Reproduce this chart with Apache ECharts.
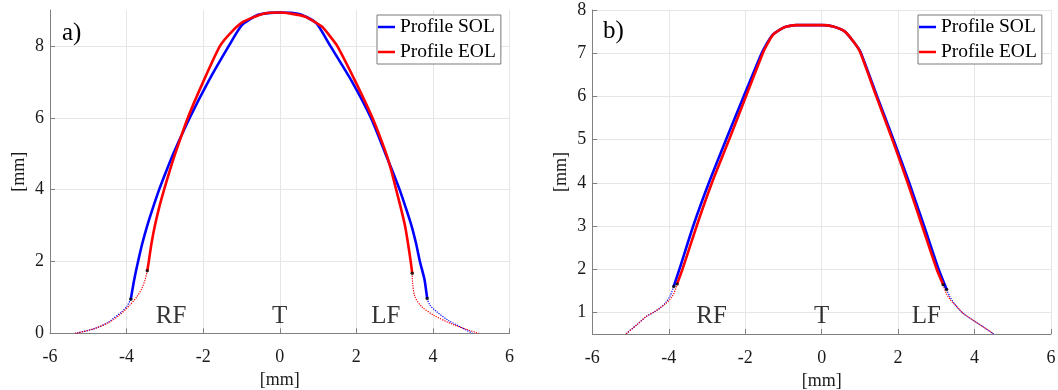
<!DOCTYPE html>
<html>
<head>
<meta charset="utf-8">
<script src="https://cdn.jsdelivr.net/npm/echarts@6/dist/echarts.min.js"></script>
<style>
  html, body { margin: 0; padding: 0; background: #fff; }
  #chart { width: 1058px; height: 390px; }
</style>
</head>
<body>
<div id="chart"></div>
<script>
// Tick values
const X_TICKS = [-6, -4, -2, 0, 2, 4, 6];
const Y_TICKS_A = [0, 2, 4, 6, 8];
const Y_TICKS_B = [1, 2, 3, 4, 5, 6, 7, 8];

// Panel a) measured profiles [x mm, y mm]
const solA = [[-3.89,0.95],[-3.80,1.5],[-3.70,2.0],[-3.59,2.5],[-3.46,3.0],[-3.31,3.5],[-3.15,4.0],[-2.97,4.5],[-2.78,5.0],[-2.35,6.0],[-1.87,7.0],[-1.33,8.0],[-0.99,8.58],[-0.58,8.86],[-0.25,8.92],[0,8.93],[0.30,8.92],[0.58,8.86],[0.96,8.63],[1.32,8.0],[1.89,7.0],[2.38,6.0],[2.76,5.0],[2.95,4.5],[3.13,4.0],[3.29,3.5],[3.44,3.0],[3.56,2.5],[3.66,2.0],[3.78,1.5],[3.85,0.97]];
const eolA = [[-3.46,1.74],[-3.42,2.0],[-3.35,2.5],[-3.26,3.0],[-3.15,3.5],[-3.02,4.0],[-2.88,4.5],[-2.73,5.0],[-2.40,6.0],[-2.00,7.0],[-1.56,8.0],[-1.25,8.40],[-0.94,8.68],[-0.45,8.89],[0,8.93],[0.65,8.82],[1.10,8.54],[1.32,8.26],[1.50,8.0],[1.98,7.0],[2.42,6.0],[2.78,5.0],[2.92,4.5],[3.04,4.0],[3.16,3.5],[3.27,3.0],[3.35,2.5],[3.42,2.0],[3.46,1.67]];
// Panel a) extrapolated flanks
const solATailL = [[-3.89,0.95],[-4.00,0.74],[-4.17,0.56],[-4.34,0.42],[-4.50,0.29],[-4.87,0.12],[-5.34,0]];
const eolATailL = [[-3.46,1.74],[-3.52,1.48],[-3.60,1.25],[-3.73,1.02],[-3.91,0.79],[-4.13,0.56],[-4.43,0.32],[-4.87,0.12],[-5.34,0]];
const solATailR = [[3.85,0.97],[3.92,0.79],[4.10,0.60],[4.40,0.36],[4.75,0.16],[5.03,0]];
const eolATailR = [[3.46,1.67],[3.47,1.40],[3.53,1.02],[3.71,0.74],[4.01,0.51],[4.45,0.28],[4.79,0.14],[5.19,0]];

// Panel b) measured profiles
const solB = [[-3.87,1.60],[-3.72,2.0],[-3.36,3.0],[-2.95,4.0],[-2.50,5.0],[-2.04,6.0],[-1.57,7.0],[-1.45,7.2],[-1.29,7.42],[-1.10,7.54],[-0.94,7.61],[-0.67,7.65],[0,7.65],[0.30,7.62],[0.61,7.50],[0.83,7.27],[1.01,7.04],[1.45,6.0],[1.88,5.0],[2.29,4.0],[2.68,3.0],[3.06,2.0],[3.27,1.53]];
const eolB = [[-3.78,1.66],[-3.64,2.0],[-3.27,3.0],[-2.87,4.0],[-2.42,5.0],[-1.98,6.0],[-1.54,7.0],[-1.43,7.2],[-1.28,7.42],[-1.10,7.54],[-0.94,7.61],[-0.67,7.65],[0,7.65],[0.30,7.62],[0.61,7.50],[0.83,7.27],[1.00,7.04],[1.43,6.0],[1.85,5.0],[2.25,4.0],[2.63,3.0],[3.01,2.0],[3.18,1.64]];
// Panel b) extrapolated flanks
const solBTailL = [[-3.87,1.60],[-3.97,1.37],[-4.10,1.21],[-4.23,1.10],[-4.40,1.00],[-4.58,0.91],[-4.84,0.71],[-5.12,0.50]];
const eolBTailL = [[-3.78,1.66],[-3.86,1.45],[-3.97,1.30],[-4.10,1.19],[-4.23,1.10],[-4.40,1.00],[-4.58,0.91],[-4.84,0.71],[-5.12,0.50]];
const solBTailR = [[3.27,1.53],[3.35,1.37],[3.49,1.18],[3.70,0.98],[4.01,0.79],[4.27,0.64],[4.50,0.50]];
const eolBTailR = [[3.18,1.64],[3.25,1.46],[3.36,1.30],[3.49,1.18],[3.70,0.98],[4.01,0.79],[4.27,0.64],[4.50,0.50]];

// Region labels
const regionNames = ['RF', 'T', 'LF'];
const regionXA = [-2.84, 0, 2.77];
const regionYA = [0.46, 0.46, 0.46];
const regionXB = [-2.88, 0, 2.74];
const regionYB = [0.90, 0.90, 0.90];

const SERIF = 'Liberation Serif';
const BLUE = '#0000ff';
const RED = '#ff0000';
const AXIS_GRAY = '#808080';
const GRID_GRAY = '#e6e6e6';
const TEXT = '#1a1a1a';

function tickLabel(margin) {
  return {
    margin: margin,
    formatter: v => '{t|' + v + '}',
    rich: { t: { fontFamily: SERIF, fontSize: 18, color: TEXT } }
  };
}

function xAxisFor(gi) {
  return {
    type: 'value', gridIndex: gi, min: -6, max: 6,
    name: '[mm]', nameLocation: 'middle', nameGap: 37,
    nameTextStyle: { fontFamily: SERIF, fontSize: 18, color: TEXT },
    axisLine: { onZero: false, lineStyle: { color: AXIS_GRAY, width: 1 } },
    axisTick: { inside: true, length: 5, customValues: X_TICKS, lineStyle: { color: AXIS_GRAY } },
    axisLabel: Object.assign({ customValues: X_TICKS }, tickLabel(15)),
    splitLine: { show: true, lineStyle: { color: GRID_GRAY, width: 1 } }
  };
}
function yAxisFor(gi, min, max, ticks) {
  return {
    type: 'value', gridIndex: gi, min: min, max: max,
    name: '[mm]', nameLocation: 'middle', nameGap: 22, nameRotate: 90,
    nameTextStyle: { fontFamily: SERIF, fontSize: 18, color: TEXT },
    axisLine: { show: true, onZero: false, lineStyle: { color: AXIS_GRAY, width: 1 } },
    axisTick: { show: true, inside: true, length: 5, customValues: ticks, lineStyle: { color: AXIS_GRAY } },
    axisLabel: Object.assign({ customValues: ticks }, tickLabel(6)),
    splitLine: { show: true, lineStyle: { color: GRID_GRAY, width: 1 } }
  };
}

function solid(name, data, color, gi, z) {
  return { name: name, type: 'line', xAxisIndex: gi, yAxisIndex: gi, data: data,
    showSymbol: false, smooth: 0.2, z: z, silent: true,
    lineStyle: { color: color, width: 2.6 }, itemStyle: { color: color } };
}
function tail(name, data, color, gi) {
  return { name: name, type: 'line', xAxisIndex: gi, yAxisIndex: gi, data: data,
    showSymbol: false, smooth: 0.3, z: 2, silent: true,
    lineStyle: { color: color, width: 1.2, type: [1.2, 1.2] }, itemStyle: { color: color } };
}
function joints(curves, gi) {
  const pts = [];
  curves.forEach(c => { pts.push(c[0]); pts.push(c[c.length - 1]); });
  return { name: 'joints', type: 'scatter', xAxisIndex: gi, yAxisIndex: gi, data: pts,
    symbolSize: 3.5, z: 6, silent: true, itemStyle: { color: '#000' } };
}
function regions(xs, ys, gi) {
  return { name: 'regions', type: 'scatter', xAxisIndex: gi, yAxisIndex: gi,
    data: regionNames.map((n, i) => ({ name: n, value: [xs[i], ys[i]] })),
    symbolSize: 1, itemStyle: { color: 'rgba(0,0,0,0)' }, z: 7, silent: true,
    label: { show: true, position: 'inside', formatter: p => p.name,
      fontFamily: SERIF, fontSize: 25, color: '#000' } };
}
function legendAt(left, top) {
  return {
    data: ['Profile SOL', 'Profile EOL'], orient: 'vertical', left: left, top: top,
    icon: 'rect', itemWidth: 17, itemHeight: 2.5, itemGap: 5,
    padding: [2, 5, 2, 1], backgroundColor: '#fff', borderColor: '#7a7a7a', borderWidth: 1,
    textStyle: { fontFamily: SERIF, fontSize: 19.5, color: '#000' }, selectedMode: false
  };
}

const chart = echarts.init(document.getElementById('chart'), null, { renderer: 'canvas' });
chart.setOption({
  animation: false,
  backgroundColor: '#fff',
  textStyle: { fontFamily: SERIF },
  grid: [
    { left: 50, top: 10, width: 459.5, height: 323.3, outerBoundsMode: 'none', containLabel: false },
    { left: 592.3, top: 10, width: 458.7, height: 324, outerBoundsMode: 'none', containLabel: false }
  ],
  xAxis: [xAxisFor(0), xAxisFor(1)],
  yAxis: [yAxisFor(0, 0, 9, Y_TICKS_A), yAxisFor(1, 0.5, 8, Y_TICKS_B)],
  legend: [legendAt(377, 15), legendAt(918, 15)],
  graphic: [
    { type: 'text', left: 62, top: 21, style: { text: 'a)', font: '25px ' + SERIF, fill: '#000' } },
    { type: 'text', left: 603, top: 19, style: { text: 'b)', font: '25px ' + SERIF, fill: '#000' } }
  ],
  series: [
    tail('SOL flank L a', solATailL, BLUE, 0),
    tail('EOL flank L a', eolATailL, RED, 0),
    tail('SOL flank R a', solATailR, BLUE, 0),
    tail('EOL flank R a', eolATailR, RED, 0),
    solid('Profile SOL', solA, BLUE, 0, 3),
    solid('Profile EOL', eolA, RED, 0, 4),
    joints([solA, eolA], 0),
    regions(regionXA, regionYA, 0),

    tail('SOL flank L b', solBTailL, BLUE, 1),
    tail('EOL flank L b', eolBTailL, RED, 1),
    tail('SOL flank R b', solBTailR, BLUE, 1),
    tail('EOL flank R b', eolBTailR, RED, 1),
    solid('Profile SOL', solB, BLUE, 1, 3),
    solid('Profile EOL', eolB, RED, 1, 4),
    joints([solB, eolB], 1),
    regions(regionXB, regionYB, 1)
  ]
});
</script>
</body>
</html>
